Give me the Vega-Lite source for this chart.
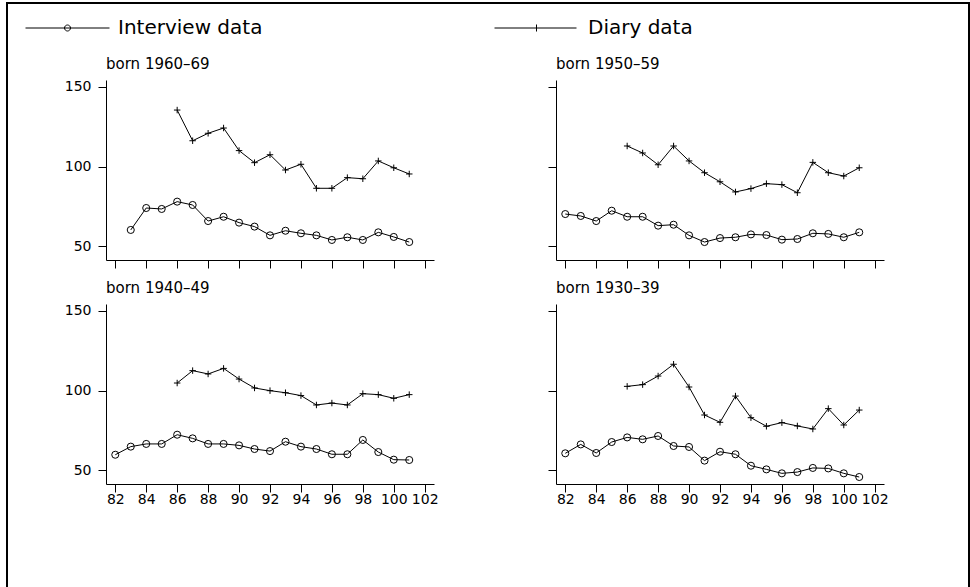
{
  "$schema": "https://vega.github.io/schema/vega-lite/v6.json",
  "background": "white",
  "padding": {"left": 6, "top": 2, "right": 0, "bottom": 0},
  "datasets": {
    "d": [
      {"cohort": "1960-69", "series": "Interview data", "year": 83, "value": 60.1},
      {"cohort": "1960-69", "series": "Interview data", "year": 84, "value": 73.9},
      {"cohort": "1960-69", "series": "Interview data", "year": 85, "value": 73.3},
      {"cohort": "1960-69", "series": "Interview data", "year": 86, "value": 77.9},
      {"cohort": "1960-69", "series": "Interview data", "year": 87, "value": 75.8},
      {"cohort": "1960-69", "series": "Interview data", "year": 88, "value": 65.7},
      {"cohort": "1960-69", "series": "Interview data", "year": 89, "value": 68.4},
      {"cohort": "1960-69", "series": "Interview data", "year": 90, "value": 64.7},
      {"cohort": "1960-69", "series": "Interview data", "year": 91, "value": 62.2},
      {"cohort": "1960-69", "series": "Interview data", "year": 92, "value": 56.7},
      {"cohort": "1960-69", "series": "Interview data", "year": 93, "value": 59.6},
      {"cohort": "1960-69", "series": "Interview data", "year": 94, "value": 58.0},
      {"cohort": "1960-69", "series": "Interview data", "year": 95, "value": 56.7},
      {"cohort": "1960-69", "series": "Interview data", "year": 96, "value": 53.8},
      {"cohort": "1960-69", "series": "Interview data", "year": 97, "value": 55.5},
      {"cohort": "1960-69", "series": "Interview data", "year": 98, "value": 53.8},
      {"cohort": "1960-69", "series": "Interview data", "year": 99, "value": 58.6},
      {"cohort": "1960-69", "series": "Interview data", "year": 100, "value": 55.7},
      {"cohort": "1960-69", "series": "Interview data", "year": 101, "value": 52.5},
      {"cohort": "1960-69", "series": "Diary data", "year": 86, "value": 135.5},
      {"cohort": "1960-69", "series": "Diary data", "year": 87, "value": 116.2},
      {"cohort": "1960-69", "series": "Diary data", "year": 88, "value": 120.9},
      {"cohort": "1960-69", "series": "Diary data", "year": 89, "value": 124.2},
      {"cohort": "1960-69", "series": "Diary data", "year": 90, "value": 110.0},
      {"cohort": "1960-69", "series": "Diary data", "year": 91, "value": 102.4},
      {"cohort": "1960-69", "series": "Diary data", "year": 92, "value": 107.4},
      {"cohort": "1960-69", "series": "Diary data", "year": 93, "value": 97.8},
      {"cohort": "1960-69", "series": "Diary data", "year": 94, "value": 101.4},
      {"cohort": "1960-69", "series": "Diary data", "year": 95, "value": 86.3},
      {"cohort": "1960-69", "series": "Diary data", "year": 96, "value": 86.3},
      {"cohort": "1960-69", "series": "Diary data", "year": 97, "value": 93.0},
      {"cohort": "1960-69", "series": "Diary data", "year": 98, "value": 92.3},
      {"cohort": "1960-69", "series": "Diary data", "year": 99, "value": 103.5},
      {"cohort": "1960-69", "series": "Diary data", "year": 100, "value": 99.2},
      {"cohort": "1960-69", "series": "Diary data", "year": 101, "value": 95.3},
      {"cohort": "1950-59", "series": "Interview data", "year": 82, "value": 70.1},
      {"cohort": "1950-59", "series": "Interview data", "year": 83, "value": 68.9},
      {"cohort": "1950-59", "series": "Interview data", "year": 84, "value": 65.7},
      {"cohort": "1950-59", "series": "Interview data", "year": 85, "value": 72.2},
      {"cohort": "1950-59", "series": "Interview data", "year": 86, "value": 68.4},
      {"cohort": "1950-59", "series": "Interview data", "year": 87, "value": 68.4},
      {"cohort": "1950-59", "series": "Interview data", "year": 88, "value": 62.8},
      {"cohort": "1950-59", "series": "Interview data", "year": 89, "value": 63.4},
      {"cohort": "1950-59", "series": "Interview data", "year": 90, "value": 56.7},
      {"cohort": "1950-59", "series": "Interview data", "year": 91, "value": 52.5},
      {"cohort": "1950-59", "series": "Interview data", "year": 92, "value": 55.0},
      {"cohort": "1950-59", "series": "Interview data", "year": 93, "value": 55.5},
      {"cohort": "1950-59", "series": "Interview data", "year": 94, "value": 57.3},
      {"cohort": "1950-59", "series": "Interview data", "year": 95, "value": 56.9},
      {"cohort": "1950-59", "series": "Interview data", "year": 96, "value": 54.0},
      {"cohort": "1950-59", "series": "Interview data", "year": 97, "value": 54.4},
      {"cohort": "1950-59", "series": "Interview data", "year": 98, "value": 58.0},
      {"cohort": "1950-59", "series": "Interview data", "year": 99, "value": 57.6},
      {"cohort": "1950-59", "series": "Interview data", "year": 100, "value": 55.5},
      {"cohort": "1950-59", "series": "Interview data", "year": 101, "value": 58.6},
      {"cohort": "1950-59", "series": "Diary data", "year": 86, "value": 112.9},
      {"cohort": "1950-59", "series": "Diary data", "year": 87, "value": 108.5},
      {"cohort": "1950-59", "series": "Diary data", "year": 88, "value": 101.1},
      {"cohort": "1950-59", "series": "Diary data", "year": 89, "value": 112.9},
      {"cohort": "1950-59", "series": "Diary data", "year": 90, "value": 103.5},
      {"cohort": "1950-59", "series": "Diary data", "year": 91, "value": 96.1},
      {"cohort": "1950-59", "series": "Diary data", "year": 92, "value": 90.4},
      {"cohort": "1950-59", "series": "Diary data", "year": 93, "value": 84.0},
      {"cohort": "1950-59", "series": "Diary data", "year": 94, "value": 86.1},
      {"cohort": "1950-59", "series": "Diary data", "year": 95, "value": 89.2},
      {"cohort": "1950-59", "series": "Diary data", "year": 96, "value": 88.6},
      {"cohort": "1950-59", "series": "Diary data", "year": 97, "value": 83.5},
      {"cohort": "1950-59", "series": "Diary data", "year": 98, "value": 102.6},
      {"cohort": "1950-59", "series": "Diary data", "year": 99, "value": 96.1},
      {"cohort": "1950-59", "series": "Diary data", "year": 100, "value": 94.0},
      {"cohort": "1950-59", "series": "Diary data", "year": 101, "value": 99.2},
      {"cohort": "1940-49", "series": "Interview data", "year": 82, "value": 59.6},
      {"cohort": "1940-49", "series": "Interview data", "year": 83, "value": 64.7},
      {"cohort": "1940-49", "series": "Interview data", "year": 84, "value": 66.4},
      {"cohort": "1940-49", "series": "Interview data", "year": 85, "value": 66.4},
      {"cohort": "1940-49", "series": "Interview data", "year": 86, "value": 72.2},
      {"cohort": "1940-49", "series": "Interview data", "year": 87, "value": 69.9},
      {"cohort": "1940-49", "series": "Interview data", "year": 88, "value": 66.4},
      {"cohort": "1940-49", "series": "Interview data", "year": 89, "value": 66.4},
      {"cohort": "1940-49", "series": "Interview data", "year": 90, "value": 65.5},
      {"cohort": "1940-49", "series": "Interview data", "year": 91, "value": 63.2},
      {"cohort": "1940-49", "series": "Interview data", "year": 92, "value": 61.9},
      {"cohort": "1940-49", "series": "Interview data", "year": 93, "value": 67.8},
      {"cohort": "1940-49", "series": "Interview data", "year": 94, "value": 64.7},
      {"cohort": "1940-49", "series": "Interview data", "year": 95, "value": 63.2},
      {"cohort": "1940-49", "series": "Interview data", "year": 96, "value": 59.9},
      {"cohort": "1940-49", "series": "Interview data", "year": 97, "value": 59.9},
      {"cohort": "1940-49", "series": "Interview data", "year": 98, "value": 68.9},
      {"cohort": "1940-49", "series": "Interview data", "year": 99, "value": 61.3},
      {"cohort": "1940-49", "series": "Interview data", "year": 100, "value": 56.5},
      {"cohort": "1940-49", "series": "Interview data", "year": 101, "value": 56.3},
      {"cohort": "1940-49", "series": "Diary data", "year": 86, "value": 104.7},
      {"cohort": "1940-49", "series": "Diary data", "year": 87, "value": 112.5},
      {"cohort": "1940-49", "series": "Diary data", "year": 88, "value": 110.4},
      {"cohort": "1940-49", "series": "Diary data", "year": 89, "value": 113.9},
      {"cohort": "1940-49", "series": "Diary data", "year": 90, "value": 107.2},
      {"cohort": "1940-49", "series": "Diary data", "year": 91, "value": 101.6},
      {"cohort": "1940-49", "series": "Diary data", "year": 92, "value": 99.9},
      {"cohort": "1940-49", "series": "Diary data", "year": 93, "value": 98.6},
      {"cohort": "1940-49", "series": "Diary data", "year": 94, "value": 96.8},
      {"cohort": "1940-49", "series": "Diary data", "year": 95, "value": 90.9},
      {"cohort": "1940-49", "series": "Diary data", "year": 96, "value": 92.1},
      {"cohort": "1940-49", "series": "Diary data", "year": 97, "value": 90.9},
      {"cohort": "1940-49", "series": "Diary data", "year": 98, "value": 98.0},
      {"cohort": "1940-49", "series": "Diary data", "year": 99, "value": 97.4},
      {"cohort": "1940-49", "series": "Diary data", "year": 100, "value": 95.1},
      {"cohort": "1940-49", "series": "Diary data", "year": 101, "value": 97.4},
      {"cohort": "1930-39", "series": "Interview data", "year": 82, "value": 60.5},
      {"cohort": "1930-39", "series": "Interview data", "year": 83, "value": 66.1},
      {"cohort": "1930-39", "series": "Interview data", "year": 84, "value": 60.7},
      {"cohort": "1930-39", "series": "Interview data", "year": 85, "value": 67.6},
      {"cohort": "1930-39", "series": "Interview data", "year": 86, "value": 70.5},
      {"cohort": "1930-39", "series": "Interview data", "year": 87, "value": 69.3},
      {"cohort": "1930-39", "series": "Interview data", "year": 88, "value": 71.4},
      {"cohort": "1930-39", "series": "Interview data", "year": 89, "value": 65.1},
      {"cohort": "1930-39", "series": "Interview data", "year": 90, "value": 64.5},
      {"cohort": "1930-39", "series": "Interview data", "year": 91, "value": 55.9},
      {"cohort": "1930-39", "series": "Interview data", "year": 92, "value": 61.5},
      {"cohort": "1930-39", "series": "Interview data", "year": 93, "value": 59.9},
      {"cohort": "1930-39", "series": "Interview data", "year": 94, "value": 52.7},
      {"cohort": "1930-39", "series": "Interview data", "year": 95, "value": 50.4},
      {"cohort": "1930-39", "series": "Interview data", "year": 96, "value": 47.9},
      {"cohort": "1930-39", "series": "Interview data", "year": 97, "value": 48.7},
      {"cohort": "1930-39", "series": "Interview data", "year": 98, "value": 51.3},
      {"cohort": "1930-39", "series": "Interview data", "year": 99, "value": 51.0},
      {"cohort": "1930-39", "series": "Interview data", "year": 100, "value": 47.9},
      {"cohort": "1930-39", "series": "Interview data", "year": 101, "value": 45.6},
      {"cohort": "1930-39", "series": "Diary data", "year": 86, "value": 102.6},
      {"cohort": "1930-39", "series": "Diary data", "year": 87, "value": 103.7},
      {"cohort": "1930-39", "series": "Diary data", "year": 88, "value": 109.1},
      {"cohort": "1930-39", "series": "Diary data", "year": 89, "value": 116.5},
      {"cohort": "1930-39", "series": "Diary data", "year": 90, "value": 102.2},
      {"cohort": "1930-39", "series": "Diary data", "year": 91, "value": 84.6},
      {"cohort": "1930-39", "series": "Diary data", "year": 92, "value": 80.0},
      {"cohort": "1930-39", "series": "Diary data", "year": 93, "value": 96.5},
      {"cohort": "1930-39", "series": "Diary data", "year": 94, "value": 82.9},
      {"cohort": "1930-39", "series": "Diary data", "year": 95, "value": 77.5},
      {"cohort": "1930-39", "series": "Diary data", "year": 96, "value": 79.8},
      {"cohort": "1930-39", "series": "Diary data", "year": 97, "value": 77.7},
      {"cohort": "1930-39", "series": "Diary data", "year": 98, "value": 75.8},
      {"cohort": "1930-39", "series": "Diary data", "year": 99, "value": 88.6},
      {"cohort": "1930-39", "series": "Diary data", "year": 100, "value": 78.3},
      {"cohort": "1930-39", "series": "Diary data", "year": 101, "value": 87.7}
    ]
  },
  "columns": 2,
  "spacing": {"row": 44, "column": 122},
  "bounds": "flush",
  "concat": [
    {
      "title": "born 1960–69",
      "width": 328,
      "height": 180,
      "data": {"name": "d"},
      "transform": [{"filter": "datum.cohort == '1960-69'"}],
      "encoding": {
        "x": {"field": "year", "type": "quantitative", "scale": {"domain": [81.4, 102.6], "nice": false, "zero": false}, "axis": {"values": [82, 84, 86, 88, 90, 92, 94, 96, 98, 100, 102], "labels": false}},
        "y": {"field": "value", "type": "quantitative", "scale": {"domain": [41.2, 154.4], "nice": false, "zero": false}, "axis": {"values": [50, 100, 150]}}
      },
      "layer": [
        {"mark": {"type": "line", "color": "black", "strokeWidth": 1}, "encoding": {"detail": {"field": "series"}}},
        {"transform": [{"filter": "datum.series == 'Interview data'"}], "mark": {"type": "point", "shape": "circle", "size": 50, "color": "black", "strokeWidth": 1, "opacity": 1}},
        {"transform": [{"filter": "datum.series == 'Diary data'"}], "mark": {"type": "point", "shape": "M-1,0H1M0,-1V1", "size": 42, "color": "black", "strokeWidth": 1, "opacity": 1}},
        {
          "transform": [{"filter": "datum.year < 0"}],
          "mark": {"type": "point", "color": "black"},
          "encoding": {
            "shape": {
              "field": "series",
              "type": "nominal",
              "scale": {
                "domain": ["Interview data", "Diary data"],
                "range": [
                  "M0,0M-6.5,0H77.5M38.5,0A3,3 0 1 1 32.5,0A3,3 0 1 1 38.5,0M0,580",
                  "M0,0M-7.5,0H74.5M34.5,-3.5V3.5M449.5,580"
                ]
              },
              "legend": {
                "title": null,
                "orient": "none",
                "legendX": -99,
                "legendY": -77,
                "direction": "horizontal",
                "symbolSize": 4,
                "symbolStrokeWidth": 1,
                "symbolStrokeColor": "black",
                "symbolFillColor": "transparent",
                "symbolOpacity": 1,
                "labelFont": "DejaVu Sans",
                "labelFontSize": 20,
                "labelColor": "black",
                "labelLimit": 400,
                "labelOffset": 76,
                "columnPadding": 229,
                "padding": 15,
                "strokeColor": "black"
              }
            }
          }
        }
      ]
    },
    {
      "title": "born 1950–59",
      "width": 328,
      "height": 180,
      "data": {"name": "d"},
      "transform": [{"filter": "datum.cohort == '1950-59'"}],
      "encoding": {
        "x": {"field": "year", "type": "quantitative", "scale": {"domain": [81.4, 102.6], "nice": false, "zero": false}, "axis": {"values": [82, 84, 86, 88, 90, 92, 94, 96, 98, 100, 102], "labels": false}},
        "y": {"field": "value", "type": "quantitative", "scale": {"domain": [41.2, 154.4], "nice": false, "zero": false}, "axis": {"values": [50, 100, 150], "labels": false}}
      },
      "layer": [
        {"mark": {"type": "line", "color": "black", "strokeWidth": 1}, "encoding": {"detail": {"field": "series"}}},
        {"transform": [{"filter": "datum.series == 'Interview data'"}], "mark": {"type": "point", "shape": "circle", "size": 50, "color": "black", "strokeWidth": 1, "opacity": 1}},
        {"transform": [{"filter": "datum.series == 'Diary data'"}], "mark": {"type": "point", "shape": "M-1,0H1M0,-1V1", "size": 42, "color": "black", "strokeWidth": 1, "opacity": 1}}
      ]
    },
    {
      "title": "born 1940–49",
      "width": 328,
      "height": 180,
      "data": {"name": "d"},
      "transform": [{"filter": "datum.cohort == '1940-49'"}],
      "encoding": {
        "x": {"field": "year", "type": "quantitative", "scale": {"domain": [81.4, 102.6], "nice": false, "zero": false}, "axis": {"values": [82, 84, 86, 88, 90, 92, 94, 96, 98, 100, 102]}},
        "y": {"field": "value", "type": "quantitative", "scale": {"domain": [41.2, 154.4], "nice": false, "zero": false}, "axis": {"values": [50, 100, 150]}}
      },
      "layer": [
        {"mark": {"type": "line", "color": "black", "strokeWidth": 1}, "encoding": {"detail": {"field": "series"}}},
        {"transform": [{"filter": "datum.series == 'Interview data'"}], "mark": {"type": "point", "shape": "circle", "size": 50, "color": "black", "strokeWidth": 1, "opacity": 1}},
        {"transform": [{"filter": "datum.series == 'Diary data'"}], "mark": {"type": "point", "shape": "M-1,0H1M0,-1V1", "size": 42, "color": "black", "strokeWidth": 1, "opacity": 1}}
      ]
    },
    {
      "title": "born 1930–39",
      "width": 328,
      "height": 180,
      "data": {"name": "d"},
      "transform": [{"filter": "datum.cohort == '1930-39'"}],
      "encoding": {
        "x": {"field": "year", "type": "quantitative", "scale": {"domain": [81.4, 102.6], "nice": false, "zero": false}, "axis": {"values": [82, 84, 86, 88, 90, 92, 94, 96, 98, 100, 102]}},
        "y": {"field": "value", "type": "quantitative", "scale": {"domain": [41.2, 154.4], "nice": false, "zero": false}, "axis": {"values": [50, 100, 150], "labels": false}}
      },
      "layer": [
        {"mark": {"type": "line", "color": "black", "strokeWidth": 1}, "encoding": {"detail": {"field": "series"}}},
        {"transform": [{"filter": "datum.series == 'Interview data'"}], "mark": {"type": "point", "shape": "circle", "size": 50, "color": "black", "strokeWidth": 1, "opacity": 1}},
        {"transform": [{"filter": "datum.series == 'Diary data'"}], "mark": {"type": "point", "shape": "M-1,0H1M0,-1V1", "size": 42, "color": "black", "strokeWidth": 1, "opacity": 1}}
      ]
    }
  ],
  "config": {
    "font": "DejaVu Sans",
    "view": {"stroke": null},
    "legend": {"strokeWidth": 2},
    "axis": {
      "title": null,
      "grid": false,
      "domainColor": "black",
      "domainWidth": 1,
      "tickColor": "black",
      "tickWidth": 1,
      "tickSize": 8,
      "labelFont": "DejaVu Sans",
      "labelFontSize": 14,
      "labelColor": "black",
      "labelOverlap": false,
      "labelFlush": false,
      "labelBound": false
    },
    "axisX": {"labelPadding": 0},
    "axisY": {"labelPadding": 7},
    "title": {
      "anchor": "start",
      "frame": "group",
      "font": "DejaVu Sans",
      "fontSize": 15,
      "fontWeight": "normal",
      "color": "black",
      "baseline": "alphabetic",
      "offset": 8
    }
  }
}
